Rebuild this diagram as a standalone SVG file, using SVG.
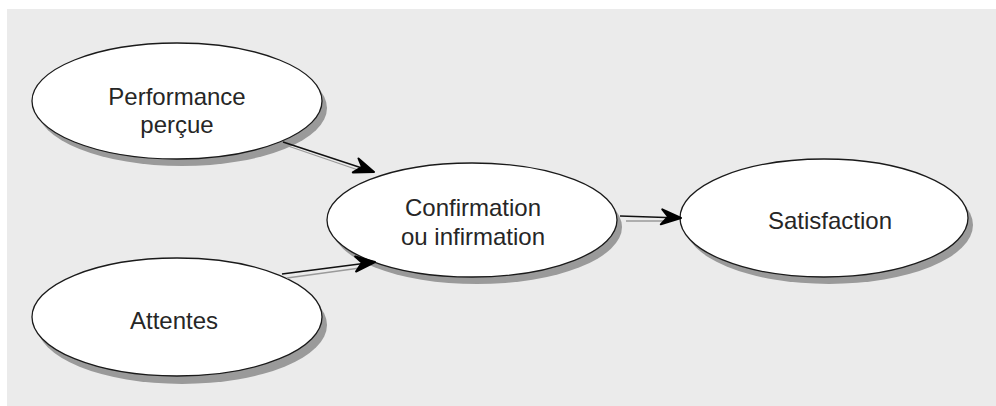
<svg xmlns="http://www.w3.org/2000/svg" width="996" height="406" viewBox="0 0 996 406">
<style>
.shadow{fill:#9a9a9a;stroke:none}
.node{fill:#ffffff;stroke:#1a1a1a;stroke-width:1.3}
.lbl{font-family:"Liberation Sans",Arial,sans-serif;font-size:24px;fill:#262626;text-anchor:middle}
.main{stroke:#111;stroke-width:1.5;fill:none}
.sec{stroke:#9a9a9a;stroke-width:1.3;fill:none}
</style>
<defs>
<marker id="ah" markerUnits="userSpaceOnUse" viewBox="-22 -10 24 20" refX="0" refY="0" markerWidth="24" markerHeight="20" orient="auto">
<path d="M0,0 L-19,-8 L-13,-1 L-20,7 Z" fill="#000" stroke="#000" stroke-width="2" stroke-linejoin="round"/>
</marker>
</defs>
<rect x="0" y="0" width="996" height="406" fill="#ffffff"/>
<rect x="7" y="9" width="989" height="397" fill="#ebebeb"/>
<g id="performance">
<ellipse class="shadow" cx="182" cy="108" rx="145" ry="58"/>
<ellipse class="node" cx="177" cy="101" rx="145" ry="58"/>
<text class="lbl" x="177" y="105">Performance</text>
<text class="lbl" x="177" y="133">perçue</text>
</g>
<g id="attentes">
<ellipse class="shadow" cx="182" cy="325" rx="145" ry="59"/>
<ellipse class="node" cx="177" cy="317" rx="145" ry="59"/>
<text class="lbl" x="174" y="329">Attentes</text>
</g>
<g id="confirmation">
<ellipse class="shadow" cx="477" cy="227" rx="145" ry="57"/>
<ellipse class="node" cx="472" cy="220" rx="145" ry="57"/>
<text class="lbl" x="473" y="216">Confirmation</text>
<text class="lbl" x="473" y="245">ou infirmation</text>
</g>
<g id="satisfaction">
<ellipse class="shadow" cx="829" cy="225" rx="144" ry="59"/>
<ellipse class="node" cx="824" cy="218" rx="144" ry="59"/>
<text class="lbl" x="830" y="229">Satisfaction</text>
</g>
<g id="connectors">
<line class="sec" x1="288" y1="146" x2="364" y2="172"/>
<line class="main" x1="283" y1="142" x2="374" y2="172" marker-end="url(#ah)"/>
<line class="sec" x1="287" y1="278" x2="360" y2="268"/>
<line class="main" x1="282" y1="274" x2="375" y2="262" marker-end="url(#ah)"/>
<line class="sec" x1="626" y1="221" x2="666" y2="221"/>
<line class="main" x1="620" y1="216" x2="681" y2="218" marker-end="url(#ah)"/>
</g>
</svg>
